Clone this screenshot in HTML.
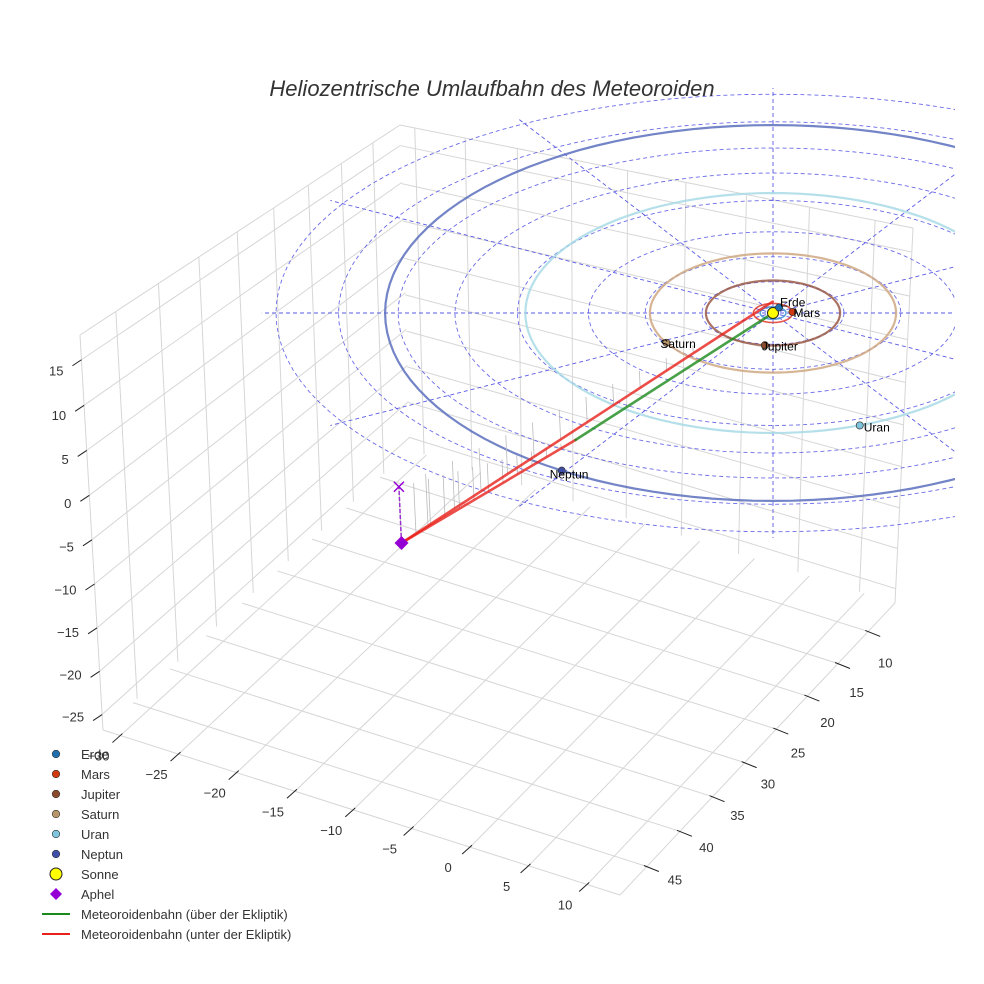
<!DOCTYPE html>
<html><head><meta charset="utf-8"><style>
html,body{margin:0;padding:0;background:#fff;}
svg{display:block;font-family:"Liberation Sans",sans-serif;}
</style></head><body>
<svg id="chart" width="984" height="984" viewBox="0 0 984 984">
<defs><clipPath id="clipR"><rect x="0" y="0" width="955" height="984"/></clipPath></defs>
<rect x="0" y="0" width="984" height="984" fill="#fff"/>
<g id="grid"></g>
<g id="ticks"></g>
<g id="plane" clip-path="url(#clipR)"></g>
<text x="492" y="96" text-anchor="middle" font-size="22" font-style="italic" fill="#333">Heliozentrische Umlaufbahn des Meteoroiden</text>
<g id="legend"></g>
</svg>
<script>
// ---- axis data ----
const xTicks = [-30,-25,-20,-15,-10,-5,0,5,10];
const yTicks = [10,15,20,25,30,35,40,45];
const zTicks = [-25,-20,-15,-10,-5,0,5,10,15];
const xRange = [-31.5, 12.8];
const yRange = [5.5, 49];
const zRange = [-26.8, 17.7];
// ---- orbit / planet data ----
const planetNames = ["Erde","Mars","Jupiter","Saturn","Uran","Neptun"];
const orbitRadii = [1.0, 1.52, 5.2, 9.54, 19.2, 30.07];
const planetAngles = [-62, -6, 97, 150, 69.5, 123];
const planetColors = ["#1f6fae","#d03a10","#8b4a2b","#b8956a","#7fc4dc","#3f4fa8"];
const orbitColors = ["#3a8fd6","#e03a2a","#9a5a48","#cfa883","#a8dbe6","#5a6fbd"];
const ringRadii = [5, 9, 13, 18, 22.4, 26.4, 30.6, 35];
const radialAngles = [0,30,60,90,120,150,180,210,240,270,300,330];
const radialLength = 36;
// meteoroid path (u, v, z in AU, ecliptic coords)
const aphel = [-29, 27.8, -6.5];
const pathBelow = [[-29,27.8,-6.5],[0,-1.0,0.6]];
const pathBelow2 = [[-29,27.8,-6.5],[-15.3,20.3,0]];
const pathAbove = [[-15.3,20.3,0],[0,0,0]];

const NS="http://www.w3.org/2000/svg";
function mk(tag, attrs, parent){const e=document.createElementNS(NS,tag);for(const k in attrs)e.setAttribute(k,attrs[k]);parent.appendChild(e);return e;}

function homog(q){
  const [x0,y0]=q[0],[x1,y1]=q[1],[x2,y2]=q[2],[x3,y3]=q[3];
  const dx1=x1-x2,dx2=x3-x2,dx3=x0-x1+x2-x3,dy1=y1-y2,dy2=y3-y2,dy3=y0-y1+y2-y3;
  const den=dx1*dy2-dx2*dy1;
  const g=(dx3*dy2-dx2*dy3)/den,h=(dx1*dy3-dx3*dy1)/den;
  const a=x1-x0+g*x1,b=x3-x0+h*x3,c=x0,d=y1-y0+g*y1,e=y3-y0+h*y3,f=y0;
  return (s,t)=>{const w=g*s+h*t+1;return [(a*s+b*t+c)/w,(d*s+e*t+f)/w];};
}
const B=[410,450],R=[895,603],F=[620,895],L=[103,730],TL=[80,335],TB=[400,125],TR=[913,228];
const floorH=homog([B,R,F,L]);
const leftH=homog([B,L,TL,TB]);
const rightH=homog([B,R,TR,TB]);
const sx=v=>(v-xRange[0])/(xRange[1]-xRange[0]);
const sy=v=>(v-yRange[0])/(yRange[1]-yRange[0]);
const sz=v=>(v-zRange[0])/(zRange[1]-zRange[0]);
const floorP=(x,y)=>floorH(sx(x),sy(y));
const leftP=(y,z)=>leftH(sy(y),sz(z));
const rightP=(x,z)=>rightH(sx(x),sz(z));

const grid=document.getElementById('grid');
function gline(p,q,name){const l=mk('line',{x1:p[0],y1:p[1],x2:q[0],y2:q[1],stroke:'#d6d6d6','stroke-width':1},grid);

}
xTicks.forEach(x=>{gline(floorP(x,yRange[0]),floorP(x,yRange[1]),'floor-gridline-x');gline(rightP(x,zRange[0]),rightP(x,zRange[1]),'wall-gridline-x');});
yTicks.forEach(y=>{gline(floorP(xRange[0],y),floorP(xRange[1],y),'floor-gridline-y');gline(leftP(y,zRange[0]),leftP(y,zRange[1]),'wall-gridline-y');});
zTicks.forEach(z=>{gline(leftP(yRange[0],z),leftP(yRange[1],z),'left-wall-gridline-z');gline(rightP(xRange[0],z),rightP(xRange[1],z),'right-wall-gridline-z');});
[[L,F],[F,R],[L,TL],[TL,TB],[TB,TR],[R,TR]].forEach(e=>gline(e[0],e[1],'box-edge'));

const ticks=document.getElementById('ticks');
function tick(p,d1,d2,lp,txt,anchor,name){
  const l=mk('line',{x1:p[0]+d1[0],y1:p[1]+d1[1],x2:p[0]+d2[0],y2:p[1]+d2[1],stroke:'#222','stroke-width':1},ticks);
  
  
  const t=mk('text',{x:lp[0],y:lp[1],'text-anchor':anchor,'font-size':13,fill:'#333'},ticks);
  t.textContent=txt;
  
  
}
const fmt=v=>v<0?'\u2212'+Math.abs(v):String(v);
xTicks.forEach(x=>{const p=floorP(x,yRange[1]);tick(p,[2,-2],[-8,7],[p[0]-22,p[1]+25],fmt(x),'middle','x-axis');});
yTicks.forEach((y,i)=>{const p=floorP(xRange[1],y);const f=i/(yTicks.length-1);tick(p,[-3,-1],[12,5],[p[0]+17+f*11,p[1]+36-f*18],fmt(y),'middle','y-axis');});
zTicks.forEach(z=>{const p=leftP(yRange[1],z);const dy=11-(15-z)/40*9;tick(p,[0,0],[-9,6],[p[0]-18,p[1]+dy+5],fmt(z),'end','z-axis');});

// ---- ecliptic plane projection ----
const SUN=[773,313], SXP=12.9, SYP=6.25, SZP=8.65, SXR=14.2;
const proj=(u,v,z)=>[SUN[0]+u*SXP-z*0.4, SUN[1]+v*SYP-z*SZP];
const plane=document.getElementById('plane');
function ellipsePath(r,sxs){let d='';for(let a=0;a<=360;a+=3){const t=a*Math.PI/180;const x=SUN[0]+r*Math.cos(t)*sxs,y=SUN[1]+r*Math.sin(t)*SYP;d+=(a?'L':'M')+x.toFixed(1)+' '+y.toFixed(1);}return d+'Z';}
ringRadii.forEach(r=>{const p=mk('path',{d:ellipsePath(r,SXR),fill:'none',stroke:'#5a5ae6','stroke-width':0.9,'stroke-dasharray':'4 3',opacity:0.9},plane);

});
radialAngles.forEach(a=>{const t=a*Math.PI/180;const q=[SUN[0]+radialLength*Math.cos(t)*SXR,SUN[1]+radialLength*Math.sin(t)*SYP];
const l=mk('line',{x1:SUN[0],y1:SUN[1],x2:q[0],y2:q[1],stroke:'#5a5ae6','stroke-width':0.9,'stroke-dasharray':'4 3'},plane);

});
orbitRadii.forEach((r,i)=>{const p=mk('path',{d:ellipsePath(r,SXP),fill:'none',stroke:orbitColors[i],'stroke-width':i<2?1.6:2.2,opacity:0.85},plane);

});

function drops(path,n){const [a,b]=path;for(let k=0;k<n;k++){const t=k/n;const u=a[0]+(b[0]-a[0])*t,v=a[1]+(b[1]-a[1])*t,z=a[2]+(b[2]-a[2])*t;
const p=proj(u,v,z),q=proj(u,v,0);
const l=mk('line',{x1:p[0],y1:p[1],x2:q[0],y2:q[1],stroke:'#bbb','stroke-width':0.8},plane);

}}
drops(pathBelow,14);drops(pathBelow2,12);
function pline(path,color,name){const p=path.map(q=>proj(q[0],q[1],q[2]));
const l=mk('polyline',{points:p.map(q=>q.join(',')).join(' '),fill:'none',stroke:color,'stroke-width':2.6,opacity:0.8,'stroke-linecap':'round'},plane);

}
pline(pathBelow,'#e8201a','meteoroid-path-below-1');
pline(pathBelow2,'#e8201a','meteoroid-path-below-2');
pline(pathAbove,'#1a8a1a','meteoroid-path-above');
const ap=proj(aphel[0],aphel[1],aphel[2]),ap0=proj(aphel[0],aphel[1],0);
const dl=mk('line',{x1:ap[0],y1:ap[1],x2:ap0[0],y2:ap0[1],stroke:'#9b30d0','stroke-width':1.5,'stroke-dasharray':'4 2'},plane);


const xm=mk('path',{d:`M${ap0[0]-5} ${ap0[1]-5}L${ap0[0]+5} ${ap0[1]+5}M${ap0[0]-5} ${ap0[1]+5}L${ap0[0]+5} ${ap0[1]-5}`,stroke:'#9400d3','stroke-width':1.5},plane);


const dm=mk('path',{d:`M${ap[0]} ${ap[1]-7}L${ap[0]+7} ${ap[1]}L${ap[0]} ${ap[1]+7}L${ap[0]-7} ${ap[1]}Z`,fill:'#9400d3'},plane);


const sun=mk('circle',{cx:SUN[0],cy:SUN[1],r:5.5,fill:'#ffff00',stroke:'#222','stroke-width':1},plane);


const labelOff=[[1,-1],[1,5],[-3,5],[-6,5],[4,6],[-12,8]];
planetNames.forEach((n,i)=>{const t=planetAngles[i]*Math.PI/180;const p=proj(orbitRadii[i]*Math.cos(t),orbitRadii[i]*Math.sin(t),0);
const c=mk('circle',{cx:p[0],cy:p[1],r:3.6,fill:planetColors[i],stroke:'#333','stroke-width':0.7},plane);


const tx=mk('text',{x:p[0]+labelOff[i][0],y:p[1]+labelOff[i][1],'font-size':12,fill:'#000'},plane);
tx.textContent=n;

});

const legend=document.getElementById('legend');
const legLabels=["Erde","Mars","Jupiter","Saturn","Uran","Neptun","Sonne","Aphel","Meteoroidenbahn (über der Ekliptik)","Meteoroidenbahn (unter der Ekliptik)"];
legLabels.forEach((lab,i)=>{const y=754+i*20;const g=mk('g',{},legend);


if(i<6){mk('circle',{cx:56,cy:y,r:3.8,fill:planetColors[i],stroke:'#333','stroke-width':0.6},g);}
else if(i===6){mk('circle',{cx:56,cy:y,r:6,fill:'#ffff00',stroke:'#222','stroke-width':1},g);}
else if(i===7){mk('path',{d:`M56 ${y-6}L62 ${y}L56 ${y+6}L50 ${y}Z`,fill:'#9400d3'},g);}
else{mk('line',{x1:42,y1:y,x2:70,y2:y,stroke:i===8?'#1a8a1a':'#e8201a','stroke-width':2},g);}
const t=mk('text',{x:81,y:y+5,'font-size':13,fill:'#333'},g);t.textContent=lab;});
</script>
</body></html>
